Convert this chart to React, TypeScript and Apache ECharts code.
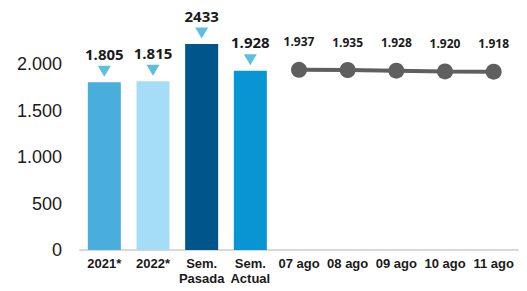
import React, { useEffect, useRef } from "react";
import * as echarts from "echarts";

const categories = ["2021*", "2022*", "Sem.\nPasada", "Sem.\nActual", "07 ago", "08 ago", "09 ago", "10 ago", "11 ago"];
const barValues = [1805, 1815, 2215, 1928];
const barLabels = ["1.805", "1.815", "2433", "1.928"];
const barColors = ["#4AAEDD", "#A6DDF6", "#00568A", "#0796D3"];
const lineValues = [1937, 1935, 1928, 1920, 1918];
const yTicks = [0, 500, 1000, 1500, 2000];

const fmt = (v: number) => v.toLocaleString("de-DE");

export default function App() {
  const ref = useRef<HTMLDivElement>(null);
  useEffect(() => {
    if (!ref.current) return;
    const chart = echarts.init(ref.current, undefined, { renderer: "svg" });
    const nBars = barValues.length;
    const barData = categories.map((_, i) =>
      i < nBars ? { value: barValues[i], itemStyle: { color: barColors[i] } } : "-"
    );
    const triData = categories.map((_, i) => (i < nBars ? barValues[i] : "-"));
    const lineData = categories.map((_, i) => (i >= nBars ? lineValues[i - nBars] : "-"));
    chart.setOption({
      animation: false,
      grid: { left: 80, right: 9, top: 17.5, bottom: 41 },
      xAxis: {
        type: "category",
        data: categories,
        axisLine: { lineStyle: { color: "#D9D9D9", width: 2 } },
        axisTick: { show: false },
        axisLabel: {
          color: "#1a1a1a",
          fontFamily: "Liberation Sans, Arial",
          fontWeight: "bold",
          fontSize: 13,
          lineHeight: 15,
          margin: 6,
          interval: 0,
        },
      },
      yAxis: {
        type: "value",
        min: 0,
        max: 2500,
        interval: 500,
        splitLine: { show: false },
        axisLine: { show: false },
        axisTick: { show: false },
        axisLabel: {
          color: "#1a1a1a",
          fontFamily: "Liberation Sans, Arial",
          fontSize: 18,
          margin: 18,
          showMaxLabel: false,
          formatter: (v: number) => (yTicks.includes(v) ? fmt(v) : ""),
        },
      },
      series: [
        {
          type: "bar",
          data: barData,
          barWidth: 33,
          label: {
            show: true,
            position: "top",
            distance: 21,
            color: "#1a1a1a",
            fontFamily: "Open Sans",
            fontWeight: "bold",
            fontSize: 15,
            formatter: (p: any) => barLabels[p.dataIndex],
          },
        },
        {
          type: "scatter",
          data: triData,
          symbol: "triangle",
          symbolRotate: 180,
          symbolSize: [13, 11],
          symbolOffset: [0, -11],
          itemStyle: { color: "#35AED8" },
          z: 5,
        },
        {
          type: "line",
          data: lineData,
          symbol: "circle",
          symbolSize: 16,
          lineStyle: { color: "#5F5F5F", width: 4 },
          itemStyle: { color: "#5F5F5F" },
          label: {
            show: true,
            position: "top",
            distance: 14,
            color: "#1a1a1a",
            fontFamily: "Open Sans",
            fontWeight: "bold",
            fontSize: 12,
            formatter: (p: any) => fmt(p.value),
          },
        },
      ],
    });
    return () => chart.dispose();
  }, []);
  return <div ref={ref} style={{ width: 527, height: 291, position: "absolute", left: 0, top: 0 }} />;
}
